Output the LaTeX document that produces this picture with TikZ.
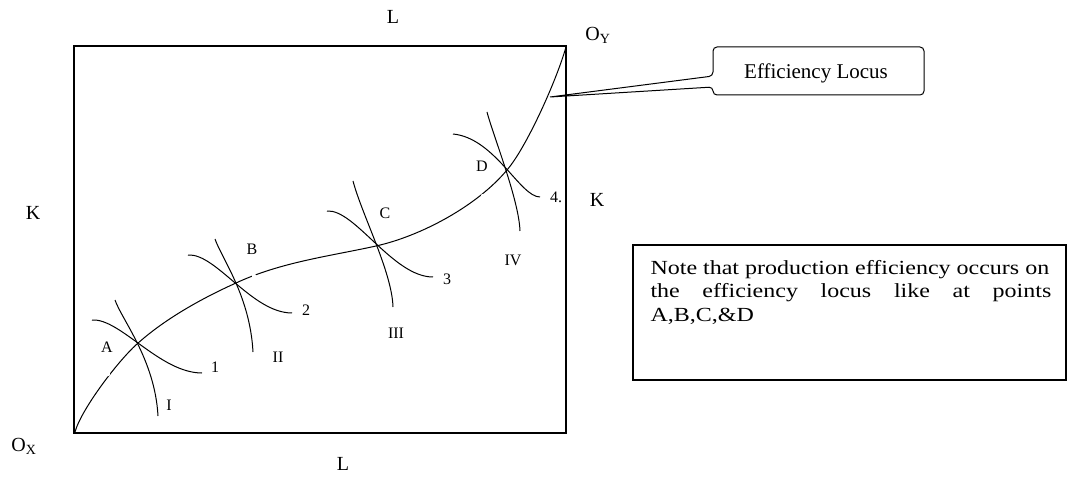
\documentclass[tikz,border=0pt]{standalone}
\usepackage{fontspec}
\setmainfont{Liberation Serif}
\begin{document}
\begin{tikzpicture}[x=1pt,y=-1pt,line width=1pt,
  lbl/.style={inner sep=0pt,font=\fontsize{16}{19}\selectfont},
  axl/.style={inner sep=0pt,font=\fontsize{20}{24}\selectfont},
  notetxt/.style={inner sep=0pt,anchor=base west,font=\fontsize{20}{23}\selectfont},
  frame/.style={line width=1.2pt},
  gap/.style={fill=white}]
\useasboundingbox (0,0) rectangle (1077,481);
% Edgeworth box
\coordinate (OX) at (75,432);
\coordinate (OY) at (566,47);
\draw[frame] (74,46) rectangle (566,433);
% efficiency locus
\coordinate (A) at (137,344);
\coordinate (B) at (236,283);
\coordinate (C) at (376,246);
\coordinate (D) at (507,170);
\coordinate (tip) at (550,97);
\draw (OX) .. controls (81,410) and (117,362) .. (A)
           .. controls (167,317) and (206,296.5) .. (B)
           .. controls (281,262) and (331,256) .. (C)
           .. controls (421,236) and (477,206) .. (D)
           .. controls (526,148) and (556,82) .. (OY);
\fill[gap] (108,374) circle (2.2);
\fill[gap] (254,276) circle (2.2);
\fill[gap] (483,196) circle (2.2);
% isoquants of X (1-4)
\draw (92,320) .. controls (120,318) and (160,373) .. (202,373);
\draw (188,255) .. controls (216,253) and (252,313) .. (292,313);
\draw (327,211) .. controls (355,209) and (393,277) .. (433,277);
\draw (453,134) .. controls (495,138) and (520,197) .. (540,197);
% isoquants of Y (I-IV)
\draw (115,300) .. controls (122,320) and (155,360) .. (158,416);
\draw (215,239) .. controls (222,259) and (250,296) .. (253,352);
\draw (353,181) .. controls (362,215) and (392,272) .. (393,307);
\draw (487,112) .. controls (493,135) and (519,200) .. (520,231);
% point labels
\node[lbl] (lA) at (107,347) {A};
\node[lbl] (lB) at (252,249) {B};
\node[lbl] (lC) at (385,213) {C};
\node[lbl] (lD) at (482,166) {D};
\node[lbl] (l1) at (215,367) {1};
\node[lbl] (l2) at (306,310) {2};
\node[lbl] (l3) at (447,279) {3};
\node[lbl] (l4) at (556,197) {4.};
\node[lbl] (lI) at (169,405) {I};
\node[lbl] (lII) at (278,357) {II};
\node[lbl] (lIII) at (396,333) {III};
\node[lbl] (lIV) at (513,260) {IV};
% axis labels
\node[axl] (Ltop) at (393,17) {L};
\node[axl] (Lbot) at (343,464) {L};
\node[axl] (Kleft) at (33,213) {K};
\node[axl] (Kright) at (597,200) {K};
\node[axl] (oxl) at (24,446) {O\textsubscript{X}};
\node[axl] (oyl) at (598,35) {O\textsubscript{Y}};
% callout
\draw[rounded corners=4pt] (tip) -- (713,76) -- (713,47) -- (924,47) -- (924,95) -- (713,95) -- (713,87) -- (tip);
\node[inner sep=0pt,font=\fontsize{21}{25}\selectfont] (callout) at (816,73) {Efficiency Locus};
% note box
\draw[frame] (633,245) rectangle (1066,380);
\node[notetxt] (n1) at (650,275) {\scalebox{1.2}[1]{Note that production efficiency occurs on}};
\node[notetxt] (n2) at (650,298) {\scalebox{1.2}[1]{\makebox[334pt][s]{the efficiency locus like at points}}};
\node[notetxt] (n3) at (650,321) {\scalebox{1.2}[1]{A,B,C,\&D}};
\end{tikzpicture}
\end{document}
